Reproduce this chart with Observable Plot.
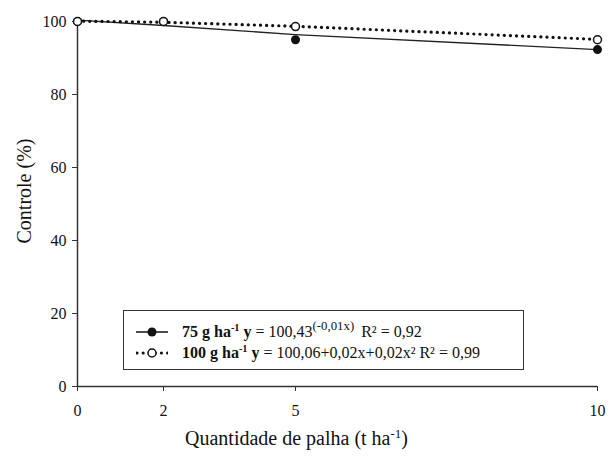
<!DOCTYPE html>
<html><head><meta charset="utf-8">
<script src="https://cdn.jsdelivr.net/npm/d3@7"></script>
<script src="https://cdn.jsdelivr.net/npm/@observablehq/plot@0.6"></script>
<style>
body{margin:0;background:#fff;font-family:"Liberation Serif","Times New Roman",serif;color:#111}
#wrap{position:relative;width:609px;height:461px}
#legend{position:absolute;left:123px;top:310px;width:399px;height:58px;border:1.5px solid #333;background:#fff;font-size:16px;line-height:21px;box-sizing:content-box}
#legend .row{display:flex;align-items:center;height:21px}
#legend svg{margin-left:12px;margin-right:14px}
sup{font-size:0.65em;line-height:0;vertical-align:0.55em}
sup.big{font-size:0.8em;margin-right:3px}
#xt{position:absolute;left:0;width:593px;text-align:center;top:427px;font-size:20px;font-family:"Liberation Serif",serif}
#yt{position:absolute;left:24px;top:191px;transform:translate(-50%,-50%) rotate(-90deg);font-size:20px;white-space:nowrap;font-family:"Liberation Serif",serif}
</style></head><body>
<div id="wrap"></div>
<script>
const quantidade = [0, 2, 5, 10];
const obs75 = [100, 100, 95, 92.3];
const obs100 = [100, 100, 98.6, 95];
const fit75 = [100.4, 98.9, 96.4, 92.3];
const fit100 = [100.1, 99.8, 98.7, 95.1];
const xTicks = [0, 2, 5, 10];
const yTicks = [0, 20, 40, 60, 80, 100];

const rows = quantidade.map((q, i) => ({q, o75: obs75[i], o100: obs100[i], f75: fit75[i], f100: fit100[i]}));

const chart = Plot.plot({
  width: 609, height: 461,
  marginLeft: 77, marginRight: 12, marginTop: 21, marginBottom: 75,
  style: {fontFamily: "'Liberation Serif', serif", fontSize: "16px", color: "#111", background: "#fff"},
  x: {type: "linear", domain: xTicks, range: [77, 163, 295, 597], ticks: xTicks, label: null},
  y: {domain: [0, 100], ticks: yTicks, label: null},
  marks: [
    Plot.ruleX([0], {stroke: "#333", strokeWidth: 1.5}),
    Plot.ruleY([0], {stroke: "#333", strokeWidth: 1.5}),
    Plot.axisX({ticks: xTicks, tickSize: 5, tickPadding: 13, stroke: "#333", fontSize: 16}),
    Plot.axisY({ticks: yTicks, tickSize: 5, tickPadding: 6, stroke: "#333", fontSize: 16}),
    Plot.line(rows, {x: "q", y: "f75", stroke: "#222", strokeWidth: 1.3}),
    Plot.line(rows, {x: "q", y: "f100", stroke: "#111", strokeWidth: 3.2, strokeDasharray: "0.1 6", strokeLinecap: "round"}),
    Plot.dot(rows, {x: "q", y: "o75", r: 4.5, fill: "#111", stroke: "none"}),
    Plot.dot(rows, {x: "q", y: "o100", r: 4, fill: "#fff", stroke: "#111", strokeWidth: 1.5})
  ]
});
const wrap = document.getElementById("wrap");
wrap.appendChild(chart);

const legend = document.createElement("div");
legend.id = "legend";
legend.innerHTML = `
<div class="row" style="margin-top:10px"><svg width="32" height="10"><line x1="0" y1="5" x2="32" y2="5" stroke="#111" stroke-width="1.5"/><circle cx="16" cy="5" r="4.5" fill="#111"/></svg><span><b>75 g ha<sup>-1</sup> y</b> = 100,43<sup class="big">(-0,01x)</sup> R² = 0,92</span></div>
<div class="row"><svg width="32" height="10"><line x1="1" y1="5" x2="32" y2="5" stroke="#111" stroke-width="3" stroke-dasharray="0.1 6" stroke-linecap="round"/><circle cx="16" cy="5" r="4" fill="#fff" stroke="#111" stroke-width="1.5"/></svg><span><b>100 g ha<sup>-1</sup> y</b> = 100,06+0,02x+0,02x² R² = 0,99</span></div>`;
wrap.appendChild(legend);

const xt = document.createElement("div");
xt.id = "xt";
xt.innerHTML = "Quantidade de palha (t ha<sup>-1</sup>)";
wrap.appendChild(xt);
const yt = document.createElement("div");
yt.id = "yt";
yt.textContent = "Controle (%)";
wrap.appendChild(yt);
</script>
</body></html>
